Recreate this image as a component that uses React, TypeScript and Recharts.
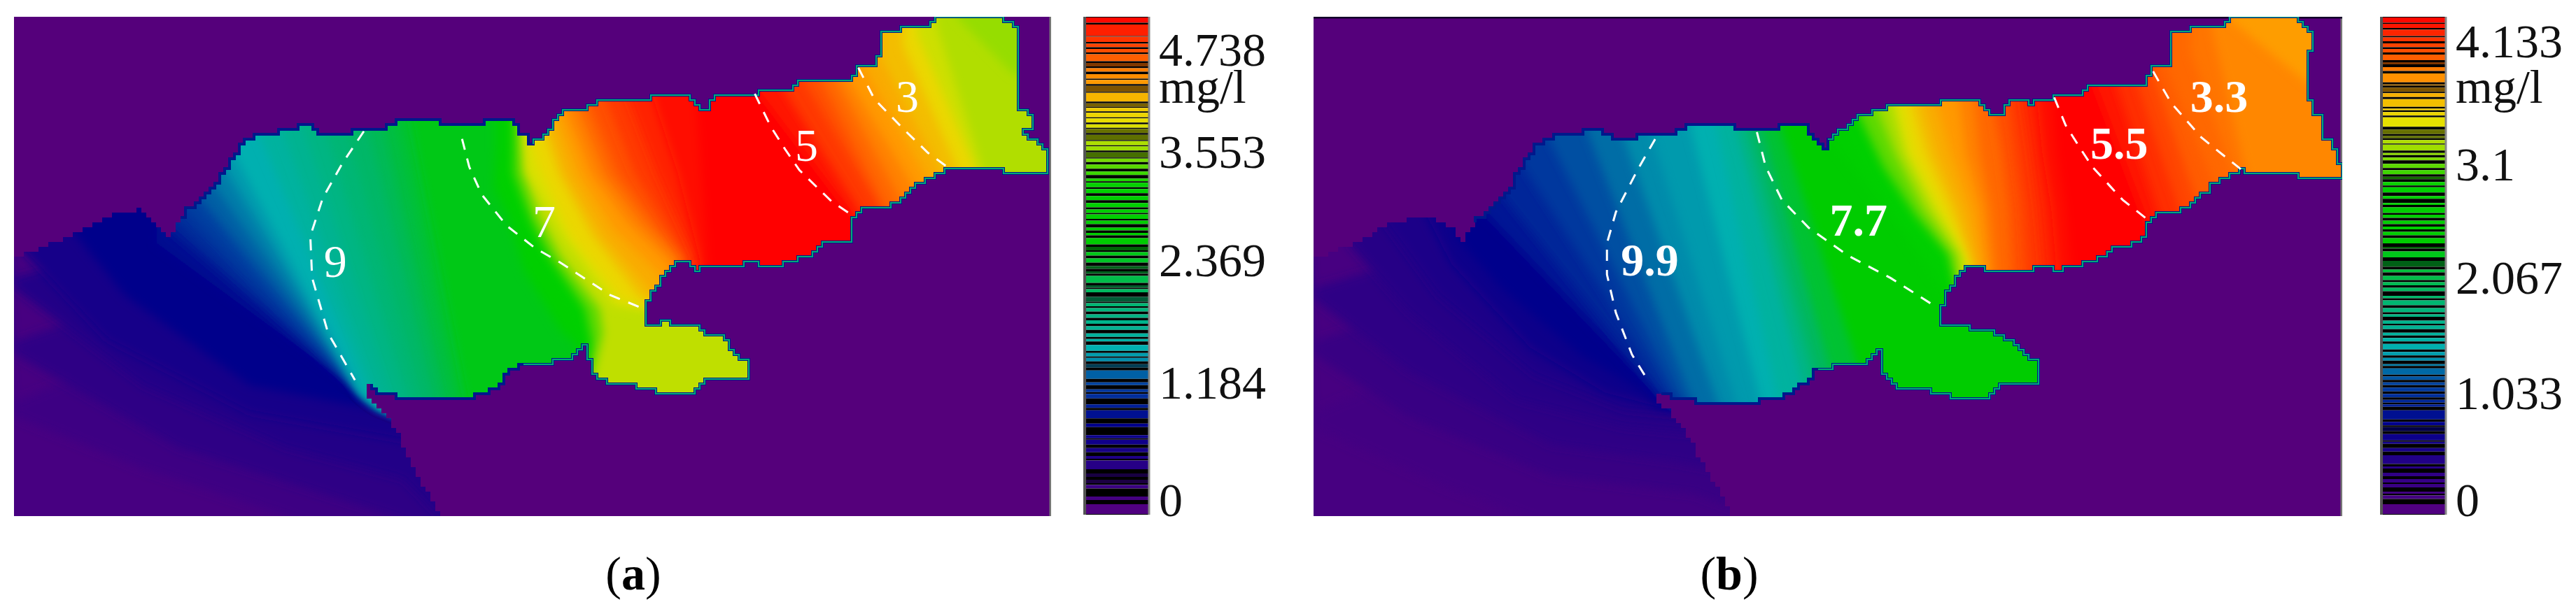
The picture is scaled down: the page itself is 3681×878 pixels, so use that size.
import { Bar, BarChart, ReferenceLine, Scatter, ScatterChart, XAxis, YAxis, LabelList } from 'recharts'

const SERIF = '"Liberation Serif", serif'

const wedgeTopA = [[40,735],[80,730],[130,705],[190,680],[250,650],[320,608],[385,605],[470,680]]
const plumeTopA = [[505,625],[560,570],[605,530],[630,480],[665,425],[710,390],[815,370],[860,358],[895,385],[975,380],[1065,370],[1105,348],[1230,348],[1235,358],[1330,365],[1355,345],[1440,345],[1450,375],[1470,385]]
const plumeRightA = [[1490,420],[1575,320],[1640,315],[1675,290],[1810,285],[1820,275],[1905,275],[1940,290],[1960,318],[1980,315],[2000,280],[2065,278],[2110,275],[2130,265],[2210,258],[2230,232],[2380,230],[2405,190],[2460,185],[2465,90],[2600,70],[2625,48],[2805,48],[2855,90],[2850,230],[2855,320],[2885,325],[2890,370],[2870,385],[2935,435],[2935,505],[2815,495],[2810,485],[2675,480],[2660,490],[2580,530],[2520,585],[2490,602],[2415,605],[2385,650],[2380,690],[2305,705],[2285,730],[2205,760],[2140,765],[2120,748],[2065,772],[1955,775],[1930,748],[1895,765],[1865,795],[1825,845],[1810,890],[1810,935],[1840,930],[1870,920],[1880,938],[1950,940],[1970,960],[2020,965],[2045,1000],[2055,1025],[2100,1035],[2100,1095],[1980,1098],[1950,1140],[1860,1140],[1820,1115],[1720,1110],[1685,1085],[1655,1050],[1645,990],[1600,1040],[1530,1045],[1470,1052]]
const plumeBottomA = [[1430,1075],[1395,1115],[1365,1135],[1275,1150],[1180,1155],[1085,1135],[1035,1110]]
const wedgeBottomA = [[1025,1145],[1060,1180],[1110,1240],[1140,1320],[1230,1487],[40,1487]]

const wedgeTopB = [[33,745],[100,715],[180,680],[240,645],[300,625],[350,620],[400,650],[450,690]]
const plumeTopB = [[480,640],[530,600],[590,530],[610,480],[645,430],[690,395],[790,378],[830,372],[870,400],[950,390],[1040,380],[1085,355],[1205,355],[1210,370],[1305,375],[1330,358],[1410,355],[1435,405],[1465,425]]
const plumeRightB = [[1480,400],[1550,330],[1615,320],[1650,298],[1785,295],[1795,283],[1885,283],[1915,320],[1930,328],[1960,325],[1980,290],[2040,295],[2090,283],[2110,270],[2180,268],[2205,240],[2355,240],[2380,195],[2435,195],[2440,85],[2575,80],[2600,55],[2780,55],[2830,95],[2820,240],[2830,330],[2865,340],[2860,395],[2905,440],[2910,515],[2785,515],[2785,495],[2660,495],[2640,490],[2550,540],[2490,595],[2465,612],[2395,612],[2370,650],[2355,700],[2280,715],[2260,735],[2180,770],[2120,775],[2090,760],[2040,785],[1930,785],[1905,760],[1865,775],[1835,810],[1805,850],[1790,900],[1790,940],[1820,935],[1850,940],[1930,950],[1950,970],[2000,985],[2030,1030],[2070,1045],[2070,1105],[1965,1105],[1925,1150],[1835,1150],[1805,1130],[1695,1120],[1660,1100],[1630,1060],[1625,1005],[1580,1045],[1500,1055],[1450,1068]]
const plumeBottomB = [[1415,1100],[1375,1130],[1345,1142],[1250,1160],[1155,1165],[1065,1145],[1005,1135]]
const wedgeBottomB = [[995,1160],[1030,1190],[1075,1240],[1110,1320],[1205,1485],[33,1485]]

type Iso = [number, number[][]]

const isolinesA: Iso[] = [
  [0.05, [[40,1200],[400,1350],[800,1487]]],
  [0.08, [[40,1020],[500,1290],[1100,1487]]],
  [0.11, [[40,830],[400,1110],[800,1290],[1130,1380],[1230,1487]]],
  [0.14, [[60,720],[300,980],[700,1190],[1130,1270],[1300,1330]]],
  [0.17, [[200,660],[350,850],[700,1110],[1100,1190],[1300,1220]]],
  [0.2, [[440,700],[1010,1130],[1030,1148],[1060,1170]]],
  [0.22, [[470,660],[1010,1130],[1030,1148],[1060,1170]]],
  [0.24, [[490,630],[1010,1130],[1030,1148],[1060,1170]]],
  [0.26, [[520,600],[1010,1130],[1030,1148],[1060,1170]]],
  [0.28, [[550,560],[1010,1130],[1030,1148],[1060,1170]]],
  [0.3, [[590,520],[1010,1130],[1030,1148],[1060,1170]]],
  [0.32, [[620,470],[1010,1130],[1030,1148],[1060,1170]]],
  [0.335, [[650,430],[1010,1130],[1030,1148],[1060,1170]]],
  [0.36, [[720,370],[1030,1130],[1060,1170]]],
  [0.38, [[790,370],[1070,1170]]],
  [0.4, [[850,370],[1110,1170]]],
  [0.42, [[910,370],[1150,1170]]],
  [0.44, [[970,370],[1185,1170]]],
  [0.46, [[1030,370],[1220,1170]]],
  [0.48, [[1070,350],[1250,1170]]],
  [0.5, [[1110,350],[1280,1170]]],
  [0.53, [[1150,350],[1310,1170]]],
  [0.62, [[1390,430],[1385,540],[1430,640],[1470,780],[1570,950],[1620,1000],[1640,1170]]],
  [0.66, [[1420,430],[1410,520],[1460,640],[1510,740],[1600,900],[1640,1000],[1640,1170]]],
  [0.7, [[1440,420],[1440,500],[1490,640],[1540,740],[1640,890],[1660,990],[1640,1170]]],
  [0.76, [[1465,410],[1470,500],[1510,620],[1570,740],[1680,890],[1690,960],[1640,1170]]],
  [0.78, [[1470,400],[1475,490],[1580,680],[1720,880],[1790,890]]],
  [0.8, [[1490,410],[1510,480],[1600,680],[1740,860],[1820,885]]],
  [0.83, [[1520,360],[1565,500],[1660,680],[1790,850],[1830,880]]],
  [0.85, [[1540,340],[1590,500],[1690,680],[1815,830],[1850,880]]],
  [0.87, [[1565,330],[1625,500],[1720,660],[1850,790],[1880,880]]],
  [0.89, [[1590,320],[1660,500],[1760,640],[1880,760],[1905,880]]],
  [0.91, [[1620,310],[1695,500],[1800,640],[1895,740],[1920,880]]],
  [0.93, [[1650,300],[1730,500],[1840,650],[1915,740],[1935,880]]],
  [0.95, [[1700,290],[1780,500],[1870,650],[1925,740],[1945,880]]],
  [0.97, [[1760,285],[1840,500],[1945,740],[1955,880]]],
  [0.985, [[1830,280],[1900,500],[1960,740],[1970,880]]],
  [1, [[1950,280],[1985,780],[1990,880]]],
  [0.98, [[2120,260],[2400,640],[2430,720]]],
  [0.95, [[2190,250],[2405,600],[2440,720]]],
  [0.93, [[2250,230],[2460,590],[2490,680]]],
  [0.91, [[2300,230],[2480,590],[2510,660]]],
  [0.89, [[2340,225],[2520,570],[2550,660]]],
  [0.87, [[2370,215],[2560,540],[2590,630]]],
  [0.85, [[2420,190],[2600,520],[2630,600]]],
  [0.83, [[2470,170],[2640,500],[2670,570]]],
  [0.8, [[2530,130],[2680,480],[2700,560]]],
  [0.77, [[2570,100],[2730,480],[2750,560]]],
  [0.75, [[2620,60],[2760,510],[2780,580]]],
  [0.73, [[2680,48],[2840,215]]],
]

const isolinesB: Iso[] = [
  [0.04, [[33,1230],[400,1400],[620,1485]]],
  [0.06, [[33,1020],[300,1200],[700,1370],[1100,1420]]],
  [0.08, [[33,860],[300,1070],[700,1280],[1050,1330],[1300,1380]]],
  [0.1, [[130,700],[300,900],[600,1150],[900,1230],[1200,1260]]],
  [0.12, [[230,640],[380,850],[650,1080],[900,1180],[1200,1210]]],
  [0.15, [[340,600],[420,760],[640,1000],[850,1130],[1000,1170],[1200,1180]]],
  [0.18, [[430,680],[560,830],[780,1020],[960,1130],[1000,1172],[1200,1172]]],
  [0.21, [[510,610],[990,1125],[1030,1172]]],
  [0.23, [[560,560],[1000,1130],[1040,1172]]],
  [0.25, [[620,480],[1020,1120],[1060,1172]]],
  [0.27, [[690,395],[1050,1130],[1090,1172]]],
  [0.29, [[800,378],[1100,1172]]],
  [0.31, [[900,390],[1170,1172]]],
  [0.32, [[980,390],[1220,1172]]],
  [0.335, [[1090,370],[1290,1172]]],
  [0.36, [[1160,360],[1340,1172]]],
  [0.4, [[1215,360],[1420,1172]]],
  [0.45, [[1250,370],[1460,1172]]],
  [0.5, [[1290,370],[1510,1172]]],
  [0.55, [[1340,360],[1560,1060],[1620,1172]]],
  [0.62, [[1480,400],[1570,520],[1670,650],[1760,780],[1820,880]]],
  [0.66, [[1510,360],[1600,500],[1690,640],[1780,740],[1835,880]]],
  [0.7, [[1560,330],[1630,480],[1720,620],[1810,730],[1845,880]]],
  [0.74, [[1610,310],[1660,440],[1740,600],[1830,730],[1855,880]]],
  [0.78, [[1655,300],[1690,440],[1770,600],[1850,730],[1865,880]]],
  [0.8, [[1685,300],[1715,440],[1795,600],[1870,740],[1875,880]]],
  [0.83, [[1710,295],[1750,440],[1820,600],[1880,760],[1885,880]]],
  [0.85, [[1740,295],[1780,440],[1845,600],[1890,765],[1895,880]]],
  [0.87, [[1780,295],[1820,440],[1875,600],[1905,760],[1910,880]]],
  [0.89, [[1840,283],[1860,440],[1905,600],[1925,780],[1930,880]]],
  [0.91, [[1885,290],[1900,440],[1930,600],[1945,785],[1950,880]]],
  [0.93, [[1940,325],[1960,440],[1980,600],[1990,785],[1995,880]]],
  [0.95, [[1980,290],[2000,440],[2020,600],[2030,785],[2035,880]]],
  [0.97, [[2020,295],[2040,440],[2060,600],[2075,780],[2080,880]]],
  [0.985, [[2060,290],[2075,440],[2100,600],[2115,780],[2120,880]]],
  [1, [[2100,275],[2115,440],[2140,600],[2155,780],[2160,880]]],
  [0.98, [[2220,245],[2365,640],[2400,730]]],
  [0.96, [[2280,240],[2400,610],[2440,720]]],
  [0.94, [[2340,240],[2460,610],[2490,700]]],
  [0.92, [[2380,200],[2510,590],[2540,680]]],
  [0.91, [[2420,195],[2560,540],[2590,640]]],
  [0.9, [[2490,150],[2610,500],[2640,600]]],
  [0.885, [[2550,85],[2650,520],[2670,590]]],
  [0.865, [[2600,55],[2820,240]]],
]

const dashesA = [
  [[1020,378],[960,470],[905,570],[870,680],[875,800],[920,960],[995,1095]],
  [[1295,400],[1315,480],[1350,560],[1420,650],[1500,715],[1568,755],[1710,850],[1805,890]],
  [[2115,270],[2160,365],[2200,430],[2240,490],[2330,580],[2395,625]],
  [[2405,195],[2450,285],[2530,370],[2600,440],[2660,485]],
]
const dashesB = [
  [[990,400],[940,490],[880,610],[855,700],[855,790],[880,900],[925,1020],[970,1095]],
  [[1275,380],[1300,480],[1345,575],[1420,655],[1530,735],[1650,800],[1765,875]],
  [[2108,280],[2140,360],[2180,425],[2215,480],[2300,575],[2370,632]],
  [[2385,205],[2435,295],[2520,395],[2580,445],[2635,490]],
]

const labelsA = [{ x: 940, y: 750, text: '9' }, { x: 1525, y: 635, text: '7' }, { x: 2260, y: 415, text: '5' }, { x: 2542, y: 275, text: '3' }]
const labelsB = [{ x: 975, y: 745, text: '9.9' }, { x: 1560, y: 630, text: '7.7' }, { x: 2290, y: 410, text: '5.5' }, { x: 2570, y: 275, text: '3.3' }]

// colour scale stripes, top to bottom, third item marks the dim ones
const stripesA = [[50,65],[70,103],[105,120],[125,135],[140,150],[155,175],[180,190,1],[195,205],[212,225],[228,240],[245,262,1],[265,290],[295,305,1],[308,318],[322,335],[338,350],[355,365],[368,380,1],[385,400,1],[403,415],[418,430],[435,450,1],[453,463],[470,482],[490,500],[510,518],[522,535],[540,552],[560,572],[580,592],[598,608],[612,625],[630,640],[650,658],[665,672],[680,698],[705,715,1],[720,730],[738,750],[760,768,1],[775,782,1],[788,808],[815,822,1],[826,835],[848,862,1],[866,875],[880,890],[898,908],[915,925],[932,942],[952,962],[968,975],[985,1002],[1008,1018],[1022,1032],[1040,1050,1],[1058,1082],[1092,1100],[1112,1120],[1125,1138],[1155,1165],[1172,1195],[1210,1220],[1243,1252],[1256,1270],[1280,1292],[1302,1310],[1315,1340],[1352,1362,1],[1370,1380,1],[1385,1395],[1418,1428],[1440,1468]]
const stripesB = [[50,65],[68,80],[85,103],[107,118],[124,135],[140,150],[156,172],[178,184,1],[192,203],[210,235],[240,245,1],[250,262,1],[266,277],[283,305],[310,315],[320,330],[335,362],[370,383,1],[388,395,1],[400,410],[413,430],[437,443],[450,458],[468,480],[486,498],[505,512,1],[520,530],[535,550],[560,568],[580,585],[592,608],[613,622],[630,640],[647,655],[662,672],[680,695],[705,710,1],[718,735],[745,762,1],[770,778],[788,800],[806,815],[822,832],[845,852],[858,872],[880,892],[898,905],[916,925],[930,940],[950,958],[965,975],[982,998],[1005,1015],[1022,1030],[1040,1045],[1052,1070],[1075,1085],[1092,1100],[1107,1118],[1125,1135],[1142,1150],[1155,1162],[1172,1198],[1205,1215],[1220,1232,1],[1240,1258],[1262,1268],[1280,1290],[1300,1325],[1332,1338],[1350,1360],[1368,1378],[1382,1392],[1404,1410],[1415,1425],[1440,1468]]

const tickTextA = ['4.738', 'mg/l', '3.553', '2.369', '1.184', '0']
const tickPosA = [140, 246, 432, 740, 1090, 1425]
const tickTextB = ['4.133', 'mg/l', '3.1', '2.067', '1.033', '0']
const tickPosB = [115, 246, 468, 790, 1120, 1425]

const STOPS: [number, string][] = [
  [0, '#55007f'], [0.18, '#00008c'], [0.26, '#0040a0'], [0.335, '#00b0b0'], [0.45, '#00b860'], [0.55, '#00cc00'],
  [0.66, '#00d000'], [0.72, '#88dd00'], [0.79, '#e8e000'], [0.87, '#ff9900'], [0.93, '#ff5000'], [1, '#ff0000'],
]

const levelColor = (level: number, dim = 1) => {
  const i = Math.max(0, STOPS.findIndex((s) => s[0] >= level) - 1)
  const [l0, c0] = STOPS[i]
  const [l1, c1] = STOPS[i + 1]
  const t = Math.min(1, Math.max(0, (level - l0) / (l1 - l0)))
  const ch = (c: string, k: number) => parseInt(c.slice(1 + k * 2, 3 + k * 2), 16)
  return `rgb(${[0, 1, 2].map((k) => Math.round((ch(c0, k) + (ch(c1, k) - ch(c0, k)) * t) * dim)).join(',')})`
}

const toRows = (pts: number[][]) => pts.map(([x, y]) => ({ x, y }))
const NoDot = () => null
const pathOf = (points: { x: number; y: number }[]) => 'M' + points.map((p) => `${p.x},${p.y}`).join('L')

// the model grid is blocky, so the outline is drawn as small stair steps
const STEP = 7
const stairs = (points: { x: number; y: number }[]) => {
  const snap = (v: number) => Math.round(v / STEP) * STEP
  let d = `M${snap(points[0].x)},${snap(points[0].y)}`
  for (let i = 1; i < points.length; i++) {
    const a = points[i - 1]
    const b = points[i]
    const n = Math.max(1, Math.ceil(Math.max(Math.abs(b.x - a.x), Math.abs(b.y - a.y)) / STEP))
    for (let k = 1; k <= n; k++) {
      const x = snap(a.x + ((b.x - a.x) * k) / n)
      const y = snap(a.y + ((b.y - a.y) * k) / n)
      d += `H${x}V${y}`
    }
  }
  return d
}

function MapPanel({ id, left, width, xMin, xMax, yMax, wedgeTop, plumeTop, plumeRight, plumeBottom, wedgeBottom, isolines, dashes, labels, baseLevel, labelWeight, topEdge }: any) {
  const outline = [...wedgeTop, ...plumeTop, ...plumeRight, ...plumeBottom, ...wedgeBottom]
  const plumeEdge = [...plumeTop, ...plumeRight, ...plumeBottom]
  const clip = `url(#${id})`
  const soft = `url(#${id}-soft)`
  // closes an isoline round the far side, past the plot so the soft edge stays out of sight
  const band = (pts: number[][]) => {
    const last = pts[pts.length - 1]
    const head = pts[0][0] <= xMin ? [[xMin - 100, pts[0][1]], [xMin - 100, -100]] : [[pts[0][0], -100]]
    const tail = last[1] > 1000 ? [[last[0] + 150, last[1] + 60], [xMax + 100, last[1] + 60]] : [[xMax + 100, last[1]]]
    return [...head, ...pts, ...tail, [xMax + 100, -100]]
  }
  return (
    <div style={{ position: 'absolute', left, top: 24 }}>
      <ScatterChart width={width} height={714} margin={{ top: 0, right: 0, bottom: 0, left: 0 }} style={{ background: '#55007b' }}>
        <XAxis type="number" dataKey="x" domain={[xMin, xMax]} allowDataOverflow hide />
        <YAxis type="number" dataKey="y" domain={[48, yMax]} allowDataOverflow reversed hide />
        <Scatter
          data={toRows(outline)}
          isAnimationActive={false}
          shape={NoDot}
          line={(p: any) => (
            <g>
              <clipPath id={id}>
                <path d={stairs(p.points) + 'Z'} />
              </clipPath>
              <filter id={`${id}-soft`} filterUnits="userSpaceOnUse" x={-200} y={-200} width={2000} height={1200}>
                <feGaussianBlur stdDeviation={7} />
              </filter>
              <path d={stairs(p.points) + 'Z'} fill={levelColor(baseLevel)} />
            </g>
          )}
        />
        {isolines.map(([level, pts]: Iso, i: number) => (
          <Scatter
            key={i}
            data={toRows(band(pts))}
            isAnimationActive={false}
            shape={NoDot}
            line={(p: any) => (
              <g clipPath={clip}>
                <path d={pathOf(p.points) + 'Z'} fill={levelColor(level)} filter={soft} />
              </g>
            )}
          />
        ))}
        <Scatter
          data={toRows(plumeEdge)}
          isAnimationActive={false}
          shape={NoDot}
          line={(p: any) => <path d={stairs(p.points)} fill="none" stroke="#00188c" strokeWidth={4} />}
        />
        <Scatter
          data={toRows(plumeRight)}
          isAnimationActive={false}
          shape={NoDot}
          line={(p: any) => <path d={stairs(p.points)} fill="none" stroke="#00a878" strokeWidth={2} />}
        />
        {dashes.map((pts: number[][], i: number) => (
          <Scatter
            key={i}
            data={toRows(pts)}
            isAnimationActive={false}
            shape={NoDot}
            line={{ stroke: '#ffffff', strokeWidth: 3, strokeDasharray: '16 13', fill: 'none' }}
          />
        ))}
        <Scatter data={labels} isAnimationActive={false} shape={NoDot}>
          <LabelList dataKey="text" position="center" fill="#ffffff" stroke="none" fontFamily={SERIF} fontSize={66} fontWeight={labelWeight} />
        </Scatter>
        <ReferenceLine x={xMax} stroke="#777777" strokeWidth={5} />
        {topEdge && <ReferenceLine y={48} stroke="#120028" strokeWidth={5} />}
      </ScatterChart>
    </div>
  )
}

function ColorScale({ left, stripes, tickPos, tickText }: any) {
  const row: Record<string, number | string> = { name: 'mg/l' }
  const segs: { key: string; fill: string }[] = []
  let cursor = 48
  stripes.forEach(([top, bottom, dim]: number[], i: number) => {
    row['g' + i] = top - cursor
    segs.push({ key: 'g' + i, fill: '#000000' })
    row['s' + i] = bottom - top
    segs.push({ key: 's' + i, fill: levelColor((1470 - (top + bottom) / 2) / 1422, dim ? 0.5 : 1) })
    cursor = bottom
  })
  row.end = 1470 - cursor
  segs.push({ key: 'end', fill: '#000000' })
  const depth = tickPos.map((p: number) => p - 48)
  return (
    <div style={{ position: 'absolute', left, top: 0 }}>
      <div style={{ position: 'absolute', left: -4, top: 24, width: 4, height: 712, background: '#555555' }} />
      <BarChart width={320} height={800} data={[row]} margin={{ top: 24, right: 0, bottom: 64, left: 0 }} barCategoryGap={0}>
        <XAxis dataKey="name" hide />
        <YAxis
          type="number"
          orientation="right"
          domain={[0, 1422]}
          reversed
          width={230}
          ticks={depth}
          interval={0}
          tickFormatter={(v: number) => tickText[depth.indexOf(v)]}
          tick={{ fontFamily: SERIF, fontSize: 68, fill: '#111111' }}
          tickLine={false}
          tickMargin={8}
          axisLine={{ stroke: '#888888', strokeWidth: 3 }}
        />
        {segs.map((s) => (
          <Bar key={s.key} dataKey={s.key} stackId="c" fill={s.fill} isAnimationActive={false} />
        ))}
      </BarChart>
    </div>
  )
}

const captionStyle = (cx: number) => ({
  position: 'absolute' as const,
  left: cx - 100,
  width: 200,
  top: 780,
  textAlign: 'center' as const,
  fontFamily: SERIF,
  fontSize: 68,
  lineHeight: '80px',
  color: '#000000',
})

export default function App() {
  return (
    <div style={{ position: 'absolute', left: 0, top: 0, width: 3681, height: 878, background: '#ffffff', overflow: 'hidden' }}>
      <MapPanel
        id="clip-a" left={20} width={1482} xMin={40} xMax={2945} yMax={1487}
        wedgeTop={wedgeTopA} plumeTop={plumeTopA} plumeRight={plumeRightA} plumeBottom={plumeBottomA} wedgeBottom={wedgeBottomA}
        isolines={isolinesA} dashes={dashesA} labels={labelsA} baseLevel={0.03} labelWeight="normal" topEdge={false}
      />
      <ColorScale left={1552} stripes={stripesA} tickPos={tickPosA} tickText={tickTextA} />
      <MapPanel
        id="clip-b" left={1877} width={1470} xMin={33} xMax={2915} yMax={1485}
        wedgeTop={wedgeTopB} plumeTop={plumeTopB} plumeRight={plumeRightB} plumeBottom={plumeBottomB} wedgeBottom={wedgeBottomB}
        isolines={isolinesB} dashes={dashesB} labels={labelsB} baseLevel={0.03} labelWeight="bold" topEdge
      />
      <ColorScale left={3405} stripes={stripesB} tickPos={tickPosB} tickText={tickTextB} />
      <div style={captionStyle(905)}>(<b>a</b>)</div>
      <div style={captionStyle(2471)}>(<b>b</b>)</div>
    </div>
  )
}
